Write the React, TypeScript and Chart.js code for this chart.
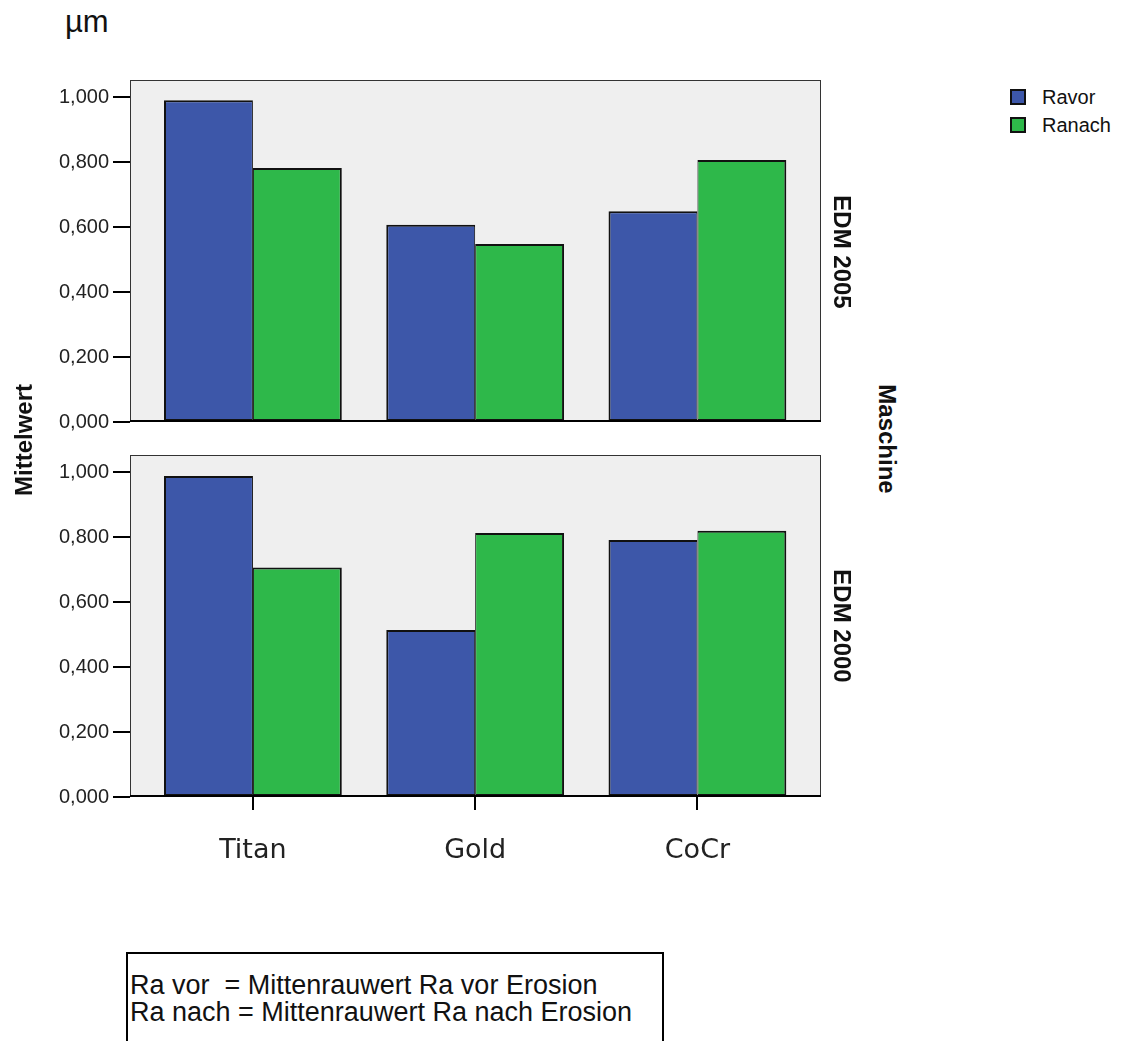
import React, { useEffect, useRef } from 'react';
import { Chart, registerables } from 'chart.js';

Chart.register(...registerables);

// ---- data ----
const categories = ['Titan', 'Gold', 'CoCr'];
const seriesNames = ['Ravor', 'Ranach'];
const edm2005Ravor = [0.991, 0.607, 0.649];
const edm2005Ranach = [0.782, 0.548, 0.807];
const edm2000Ravor = [0.988, 0.514, 0.791];
const edm2000Ranach = [0.707, 0.813, 0.82];
const yTicks = [0, 0.2, 0.4, 0.6, 0.8, 1.0];
const panelLabels = ['EDM 2005', 'EDM 2000'];
const seriesColors = ['#3d57a9', '#2eb84a'];

const SANS = '"Liberation Sans", Arial, sans-serif';

const framePlugin = {
  id: 'panelFrame',
  beforeDatasetsDraw(chart: any) {
    const { ctx, chartArea: a } = chart;
    ctx.save();
    ctx.fillStyle = '#efefef';
    ctx.fillRect(a.left, a.top, a.right - a.left, a.bottom - a.top);
    ctx.restore();
  },
  afterDatasetsDraw(chart: any) {
    const { ctx, chartArea: a } = chart;
    ctx.save();
    ctx.strokeStyle = '#333';
    ctx.lineWidth = 1;
    ctx.strokeRect(a.left + 0.5, a.top + 0.5, a.right - a.left - 1, a.bottom - a.top - 1);
    ctx.strokeStyle = '#000';
    ctx.lineWidth = 2;
    ctx.beginPath();
    ctx.moveTo(a.left, a.bottom - 1);
    ctx.lineTo(a.right, a.bottom - 1);
    ctx.stroke();
    ctx.restore();
  },
};

function Panel(props: { ravor: number[]; ranach: number[]; showX: boolean; top: number; height: number; padTop: number; padBottom: number }) {
  const ref = useRef<HTMLCanvasElement | null>(null);
  useEffect(() => {
    if (!ref.current) return;
    const mk = (vals: number[]) => vals.map((v, i) => ({ x: i, y: v }));
    const chart = new Chart(ref.current, {
      type: 'bar',
      data: {
        datasets: [
          {
            label: seriesNames[0],
            data: mk(props.ravor) as any,
            backgroundColor: seriesColors[0],
            borderColor: '#111',
            borderWidth: { left: 2, top: 2, right: 1, bottom: 2 } as any,
            borderSkipped: false,
          },
          {
            label: seriesNames[1],
            data: mk(props.ranach) as any,
            backgroundColor: seriesColors[1],
            borderColor: '#111',
            borderWidth: { left: 1, top: 2, right: 2, bottom: 2 } as any,
            borderSkipped: false,
          },
        ],
      },
      options: {
        animation: false,
        responsive: false,
        devicePixelRatio: 1,
        categoryPercentage: 0.8,
        barPercentage: 1,
        layout: { padding: { top: props.padTop, bottom: props.padBottom, left: 0, right: 19 } },
        plugins: { legend: { display: false }, tooltip: { enabled: false } },
        scales: {
          x: {
            type: 'linear',
            display: props.showX,
            min: -0.553,
            max: 2.556,
            offset: false,
            afterBuildTicks: (s: any) => {
              s.ticks = categories.map((_, i) => ({ value: i }));
            },
            afterFit: (s: any) => {
              s.height = props.showX ? 70 : 0;
            },
            grid: { offset: false, drawOnChartArea: false, drawTicks: true, tickLength: 13, color: '#000', lineWidth: 2 },
            border: { display: false },
            ticks: {
              autoSkip: false,
              maxRotation: 0,
              minRotation: 0,
              padding: 25,
              color: '#222',
              font: { family: '"DejaVu Sans", Verdana, sans-serif', size: 27 },
              callback: (v: any) => categories[Number(v)] ?? '',
            },
          } as any,
          y: {
            type: 'linear',
            min: 0,
            max: 1.053,
            afterBuildTicks: (s: any) => {
              s.ticks = yTicks.map((v) => ({ value: v }));
            },
            afterFit: (s: any) => {
              s.width = 130;
            },
            grid: { drawOnChartArea: false, drawTicks: true, tickLength: 17, color: '#000', lineWidth: 2 },
            border: { display: false },
            ticks: {
              padding: 4,
              color: '#222',
              font: { family: SANS, size: 20 },
              callback: (v: any) => Number(v).toFixed(3).replace('.', ','),
            },
          } as any,
        },
      },
      plugins: [framePlugin],
    });
    return () => chart.destroy();
  }, []);
  return (
    <canvas
      ref={ref}
      width={840}
      height={props.height}
      style={{ position: 'absolute', left: 0, top: props.top, width: 840, height: props.height, display: 'block' }}
    />
  );
}

const rot = (x: number, y: number, deg: number, size: number, text: string) => (
  <div
    style={{
      position: 'absolute',
      left: x,
      top: y,
      transform: `translate(-50%, -50%) rotate(${deg}deg)`,
      fontFamily: SANS,
      fontWeight: 'bold',
      fontSize: size,
      whiteSpace: 'nowrap',
      color: '#111',
      lineHeight: 1,
    }}
  >
    {text}
  </div>
);

export default function App() {
  return (
    <div style={{ position: 'absolute', left: 0, top: 0, width: 1121, height: 1041, overflow: 'hidden', background: '#fff', fontFamily: SANS }}>
      <div style={{ position: 'absolute', left: 65, top: 6, fontSize: 31, lineHeight: '31px', color: '#111' }}>µm</div>

      <Panel ravor={edm2005Ravor} ranach={edm2005Ranach} showX={false} top={40} height={400} padTop={40} padBottom={18} />
      <Panel ravor={edm2000Ravor} ranach={edm2000Ranach} showX={true} top={430} height={437} padTop={25} padBottom={0} />

      {rot(24, 440, -90, 24, 'Mittelwert')}
      {rot(842, 252, 90, 24, panelLabels[0])}
      {rot(842, 626, 90, 24, panelLabels[1])}
      {rot(887, 439, 90, 24, 'Maschine')}

      {seriesNames.map((n, i) => (
        <React.Fragment key={n}>
          <div
            style={{
              position: 'absolute',
              left: 1010,
              top: 89 + i * 28,
              width: 16,
              height: 16,
              boxSizing: 'border-box',
              border: '2px solid #111',
              background: seriesColors[i],
            }}
          />
          <div style={{ position: 'absolute', left: 1042, top: 85 + i * 28, fontSize: 20, lineHeight: '24px', color: '#111' }}>{n}</div>
        </React.Fragment>
      ))}

      <div
        style={{
          position: 'absolute',
          left: 126,
          top: 952,
          width: 538,
          height: 120,
          boxSizing: 'border-box',
          border: '2px solid #000',
          paddingTop: 18,
          paddingLeft: 2,
          fontSize: 27,
          lineHeight: '26.7px',
          color: '#111',
          whiteSpace: 'pre',
        }}
      >
        <div>{'Ra vor  = Mittenrauwert Ra vor Erosion'}</div>
        <div>{'Ra nach = Mittenrauwert Ra nach Erosion'}</div>
      </div>
    </div>
  );
}
